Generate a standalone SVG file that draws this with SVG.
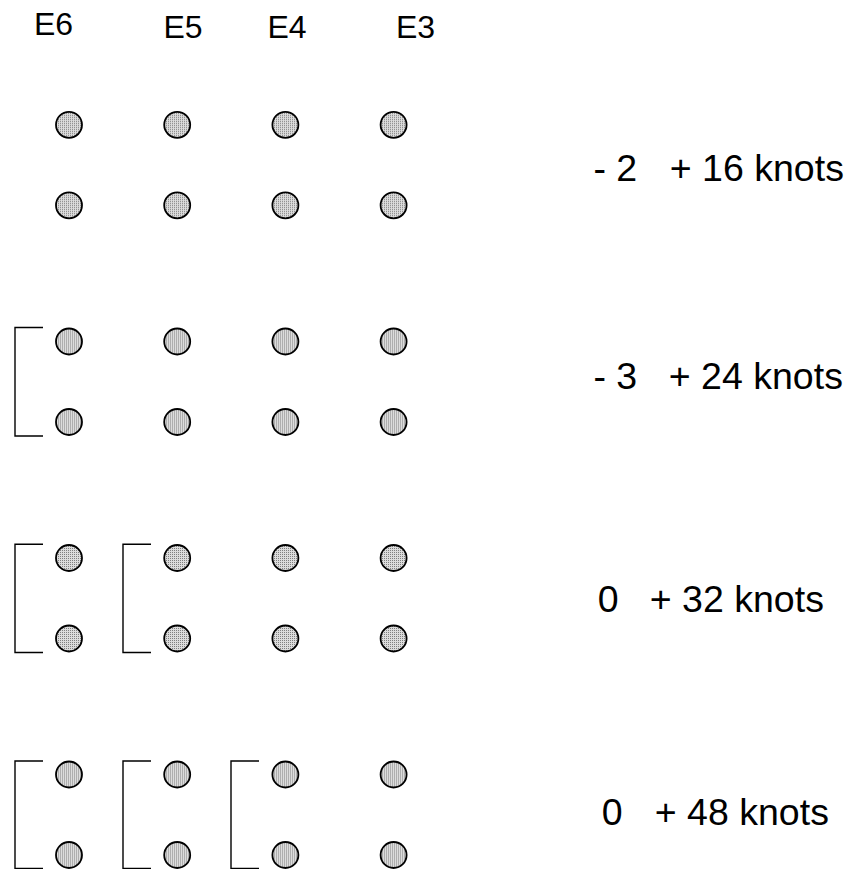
<svg xmlns="http://www.w3.org/2000/svg" width="856" height="869" viewBox="0 0 856 869">
<style>
.k{fill:url(#dots);stroke:#000;stroke-width:1.8}
.br{fill:none;stroke:#000;stroke-width:1.4}
.hd{font-family:"Liberation Sans",Arial,sans-serif;font-size:32px;fill:#000}
.lb{font-family:"Liberation Sans",Arial,sans-serif;font-size:37.5px;fill:#000}
</style>
<defs>
<pattern id="dots" width="2" height="2" patternUnits="userSpaceOnUse">
<rect width="2" height="2" fill="#dcdcdc"/>
<rect width="1" height="1" fill="#808080"/>
</pattern>
<g id="pair">
<circle class="k" cx="69" cy="0" r="13"/>
<circle class="k" cx="177.2" cy="0" r="13"/>
<circle class="k" cx="285.4" cy="0" r="13"/>
<circle class="k" cx="393.6" cy="0" r="13"/>
<circle class="k" cx="69" cy="80.5" r="13"/>
<circle class="k" cx="177.2" cy="80.5" r="13"/>
<circle class="k" cx="285.4" cy="80.5" r="13"/>
<circle class="k" cx="393.6" cy="80.5" r="13"/>
</g>
</defs>
<g id="headers">
<text class="hd" x="34" y="35">E6</text>
<text class="hd" x="163.5" y="38.3">E5</text>
<text class="hd" x="267.5" y="38.3">E4</text>
<text class="hd" x="396" y="38.3">E3</text>
</g>
<g id="row1"><use href="#pair" y="124.8"/></g>
<g id="row2"><use href="#pair" y="341.5"/></g>
<g id="row3"><use href="#pair" y="558"/></g>
<g id="row4"><use href="#pair" y="774.5"/></g>
<g id="connectors">
<path class="br" d="M43 327.5H15V436H43"/>
<path class="br" d="M43 544.3H15V652.5H43"/>
<path class="br" d="M151 544.3H123V652.5H151"/>
<path class="br" d="M43 761H15V868.5H43"/>
<path class="br" d="M151 761H123V868.5H151"/>
<path class="br" d="M259 761H231V868.5H259"/>
</g>
<g id="labels">
<text class="lb" y="181"><tspan x="593.4">- 2</tspan><tspan x="669.8">+ 16 knots</tspan></text>
<text class="lb" y="389.3"><tspan x="593.4">- 3</tspan><tspan x="668.8">+ 24 knots</tspan></text>
<text class="lb" y="612.3"><tspan x="597.7">0</tspan><tspan x="649.8">+ 32 knots</tspan></text>
<text class="lb" y="825"><tspan x="601.7">0</tspan><tspan x="654.8">+ 48 knots</tspan></text>
</g>
</svg>
